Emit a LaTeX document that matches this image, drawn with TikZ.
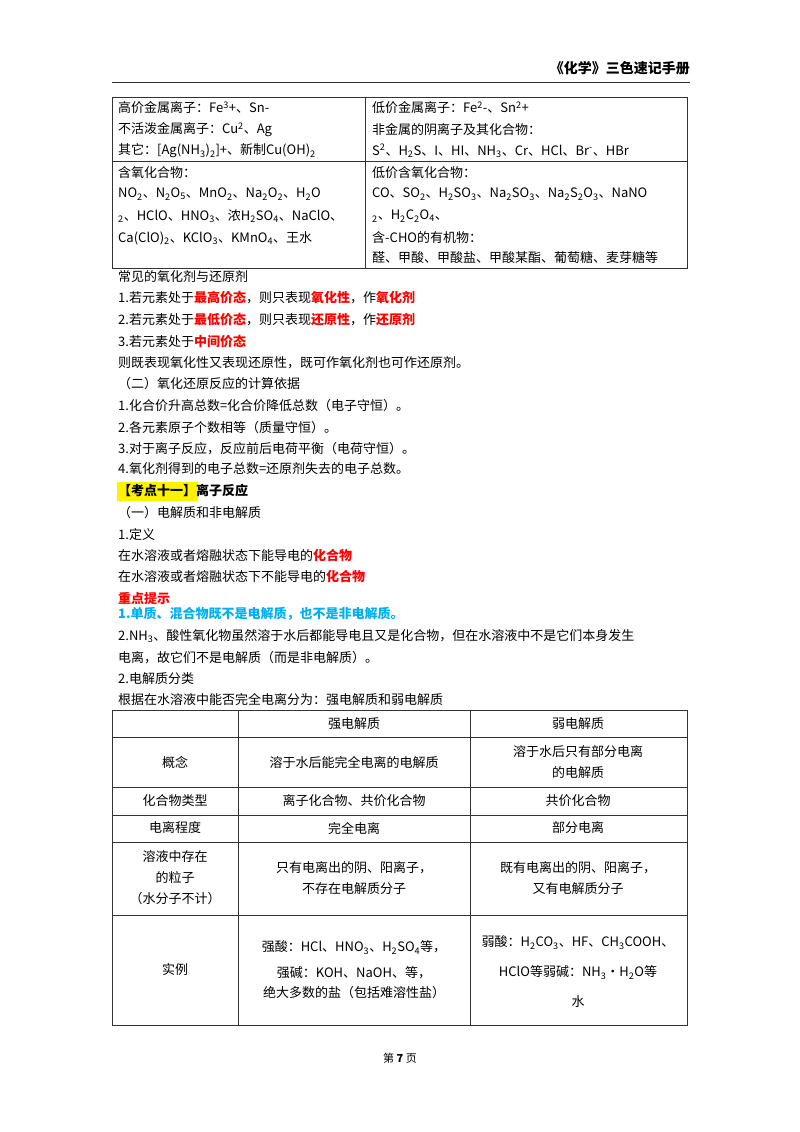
\documentclass[tikz,border=0pt]{standalone}
\usepackage{fontspec}
\setmainfont{Noto Sans CJK SC}
\newcommand{\sbs}[1]{\textsubscript{#1}}
\newcommand{\rd}[1]{\textcolor{red}{\bfseries #1}}
\begin{document}
\begin{tikzpicture}[x=1pt,y=-1pt,
  t/.style={anchor=west,inner sep=0pt,font=\fontsize{13}{14}\selectfont},
  c/.style={anchor=center,inner sep=0pt,align=center,font=\fontsize{13}{21}\selectfont},
  ln/.style={line width=0.8pt,draw=black!80}]
\useasboundingbox[fill=white] (0,0) rectangle (800,1132);
% header
\node[anchor=east,inner sep=0pt,font=\fontsize{14}{16}\selectfont\bfseries] (hd) at (690,68) {《化学》三色速记手册};
\draw[ln] (112,82) -- (690,82);
% table 1
\draw[ln] (112,97) rectangle (687,268);
\draw[ln] (365,97) -- (365,268);
\draw[ln] (112,161) -- (687,161);
\node[t] (a1) at (118,108) {高价金属离子：Fe\textsuperscript{3}+、Sn-};
\node[t] (a2) at (118,130) {不活泼金属离子：Cu\textsuperscript{2}、Ag};
\node[t] (a3) at (118,151) {其它：[Ag(NH\sbs{3})\sbs{2}]+、新制Cu(OH)\sbs{2}};
\node[t] (b1) at (372,108) {低价金属离子：Fe\textsuperscript{2}-、Sn\textsuperscript{2}+};
\node[t] (b2) at (372,130) {非金属的阴离子及其化合物：};
\node[t] (b3) at (372,151) {S\textsuperscript{2}、H\sbs{2}S、I、HI、NH\sbs{3}、Cr、HCl、Br\textsuperscript{-}、HBr};
\node[t] (a4) at (118,173) {含氧化合物：};
\node[t] (a5) at (118,194) {NO\sbs{2}、N\sbs{2}O\sbs{5}、MnO\sbs{2}、Na\sbs{2}O\sbs{2}、H\sbs{2}O};
\node[t] (a6) at (118,216) {\sbs{2}、HClO、HNO\sbs{3}、浓H\sbs{2}SO\sbs{4}、NaClO、};
\node[t] (a7) at (118,238) {Ca(ClO)\sbs{2}、KClO\sbs{3}、KMnO\sbs{4}、王水};
\node[t] (b4) at (372,173) {低价含氧化合物：};
\node[t] (b5) at (372,194) {CO、SO\sbs{2}、H\sbs{2}SO\sbs{3}、Na\sbs{2}SO\sbs{3}、Na\sbs{2}S\sbs{2}O\sbs{3}、NaNO};
\node[t] (b6) at (372,216) {\sbs{2}、H\sbs{2}C\sbs{2}O\sbs{4}、};
\node[t] (b7) at (372,238) {含-CHO的有机物：};
\node[t] (b8) at (372,258) {醛、甲酸、甲酸盐、甲酸某酯、葡萄糖、麦芽糖等};
% body text
\node[t] (l1) at (118,277) {常见的氧化剂与还原剂};
\node[t] (l2) at (118,298) {1.若元素处于\rd{最高价态}，则只表现\rd{氧化性}，作\rd{氧化剂}};
\node[t] (l3) at (118,320) {2.若元素处于\rd{最低价态}，则只表现\rd{还原性}，作\rd{还原剂}};
\node[t] (l4) at (118,342) {3.若元素处于\rd{中间价态}};
\node[t] (l5) at (118,363) {则既表现氧化性又表现还原性，既可作氧化剂也可作还原剂。};
\node[t] (l6) at (118,384) {（二）氧化还原反应的计算依据};
\node[t] (l7) at (118,406) {1.化合价升高总数=化合价降低总数（电子守恒）。};
\node[t] (l8) at (118,428) {2.各元素原子个数相等（质量守恒）。};
\node[t] (l9) at (118,449) {3.对于离子反应，反应前后电荷平衡（电荷守恒）。};
\node[t] (l10) at (118,469) {4.氧化剂得到的电子总数=还原剂失去的电子总数。};
\fill[yellow] (117,482) rectangle (198,501);
\node[t,font=\fontsize{13}{14}\selectfont\bfseries] (l11) at (118,491) {【考点十一】离子反应};
\node[t] (l12) at (118,513) {（一）电解质和非电解质};
\node[t] (l13) at (118,535) {1.定义};
\node[t] (l14) at (118,556) {在水溶液或者熔融状态下能导电的\rd{化合物}};
\node[t] (l15) at (118,577) {在水溶液或者熔融状态下不能导电的\rd{化合物}};
\node[t] (l16) at (118,599) {\rd{重点提示}};
\node[t,font=\fontsize{13}{14}\selectfont\bfseries,text={rgb,255:red,0;green,176;blue,240}] (l17) at (118,614) {1.单质、混合物既不是电解质，也不是非电解质。};
\node[t] (l18) at (118,636) {2.NH\sbs{3}、酸性氧化物虽然溶于水后都能导电且又是化合物，但在水溶液中不是它们本身发生};
\node[t] (l19) at (118,658) {电离，故它们不是电解质（而是非电解质）。};
\node[t] (l20) at (118,679) {2.电解质分类};
\node[t] (l21) at (118,700) {根据在水溶液中能否完全电离分为：强电解质和弱电解质};
% table 2
\draw[ln] (112,710) rectangle (687,1025);
\draw[ln] (238,710) -- (238,1025);
\draw[ln] (470,710) -- (470,1025);
\foreach \yy in {737,787,815,842,915} \draw[ln] (112,\yy) -- (687,\yy);
\node[c] (h1) at (354,724) {强电解质};
\node[c] (h2) at (578,724) {弱电解质};
\node[c] (r1) at (175,762) {概念};
\node[c] (r1a) at (354,762) {溶于水后能完全电离的电解质};
\node[c] (r1b) at (578,762) {溶于水后只有部分电离\\的电解质};
\node[c] (r2) at (175,801) {化合物类型};
\node[c] (r2a) at (354,801) {离子化合物、共价化合物};
\node[c] (r2b) at (578,801) {共价化合物};
\node[c] (r3) at (175,828) {电离程度};
\node[c] (r3a) at (354,828) {完全电离};
\node[c] (r3b) at (578,828) {部分电离};
\node[c] (r4) at (175,878) {溶液中存在\\的粒子\\（水分子不计）};
\node[c] (r4a) at (354,878) {只有电离出的阴、阳离子，\\不存在电解质分子};
\node[c] (r4b) at (578,878) {既有电离出的阴、阳离子，\\又有电解质分子};
\node[c] (r5) at (175,970) {实例};
\node[c,font=\fontsize{13}{26}\selectfont] (r5a) at (354,970) {强酸：HCl、HNO\sbs{3}、H\sbs{2}SO\sbs{4}等，\\强碱：KOH、NaOH、等，\\[-6pt]绝大多数的盐（包括难溶性盐）};
\node[c,font=\fontsize{13}{30}\selectfont] (r5b) at (578,972) {弱酸：H\sbs{2}CO\sbs{3}、HF、CH\sbs{3}COOH、\\HClO等弱碱：NH\sbs{3}·H\sbs{2}O等\\水};
% footer
\node[anchor=center,inner sep=0pt,font=\fontsize{11}{13}\selectfont] (ft) at (400,1058) {第 \textbf{7} 页};
\end{tikzpicture}
\end{document}
